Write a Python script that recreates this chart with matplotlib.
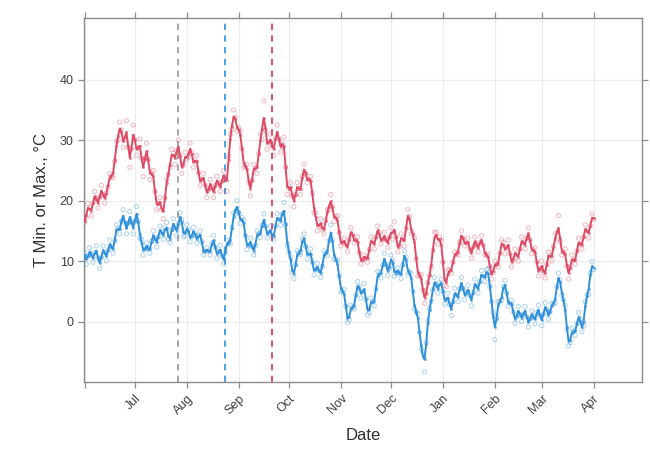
import matplotlib
matplotlib.use("Agg")
import matplotlib.pyplot as plt
import matplotlib.dates as mdates
import pandas as pd

plt.rcParams['font.family'] = ['Liberation Sans', 'DejaVu Sans']

start = "2013-06-01"

# Daily maximum temperature, degC
tmax = [
    16.4, 17.2, 19.5, 18.8, 17.5, 19.6, 21.5, 20.3, 18.8, 20.6,
    22.5, 21.0, 19.6, 21.3, 22.2, 24.5, 24.0, 23.8, 26.5, 29.8,
    30.0, 33.0, 31.7, 28.8, 30.0, 33.2, 28.8, 25.5, 28.5, 32.5,
    30.1, 27.5, 28.8, 30.2, 27.0, 24.0, 27.0, 29.5, 26.8, 23.5,
    24.6, 25.0, 21.5, 18.5, 19.5, 20.5, 18.5, 17.0, 20.5, 23.5,
    24.3, 25.5, 28.5, 27.8, 26.0, 28.3, 30.0, 27.5, 24.5, 25.8,
    28.0, 26.8, 27.2, 29.5, 27.9, 25.5, 26.6, 27.5, 24.6, 22.5,
    23.5, 24.5, 22.6, 20.5, 21.8, 23.5, 22.2, 20.5, 22.5, 24.0,
    22.8, 21.5, 23.2, 25.0, 23.6, 21.5, 27.3, 31.0, 31.8, 35.0,
    33.8, 31.5, 32.0, 31.5, 28.6, 25.5, 25.6, 26.0, 23.0, 20.8,
    23.4, 26.0, 25.4, 24.5, 27.8, 31.0, 30.1, 36.5, 31.6, 28.5,
    29.5, 31.0, 28.9, 27.5, 30.3, 32.5, 30.2, 28.0, 29.5, 30.5,
    25.5, 21.0, 22.0, 23.0, 20.8, 19.0, 21.0, 23.0, 22.0, 21.0,
    24.0, 26.0, 24.5, 23.0, 23.5, 24.0, 21.3, 18.0, 18.0, 15.0,
    15.8, 17.0, 15.2, 14.5, 16.8, 18.5, 18.5, 21.0, 19.0, 16.5,
    17.4, 17.5, 14.7, 12.5, 13.0, 13.8, 12.7, 11.5, 13.6, 15.5,
    14.4, 13.0, 13.5, 14.0, 11.4, 9.5, 10.2, 11.0, 10.5, 9.8,
    11.9, 14.0, 13.2, 12.0, 14.0, 15.8, 14.7, 12.8, 13.5, 14.8,
    13.5, 12.2, 14.0, 15.5, 13.6, 16.5, 14.0, 11.5, 12.4, 14.5,
    13.6, 12.5, 15.4, 18.5, 17.4, 14.5, 14.7, 13.8, 10.4, 7.5,
    7.6, 7.8, 5.2, 3.0, 4.6, 6.5, 7.6, 9.0, 11.8, 14.8,
    14.7, 12.8, 14.0, 13.5, 9.8, 6.0, 5.8, 8.5, 8.6, 8.0,
    9.8, 11.5, 11.2, 11.0, 13.1, 15.0, 13.8, 12.5, 13.0, 13.8,
    11.9, 10.5, 12.3, 14.0, 12.7, 11.5, 13.1, 14.2, 12.6, 11.0,
    11.0, 11.2, 9.2, 7.0, 8.1, 10.0, 9.4, 9.0, 11.3, 13.5,
    13.1, 11.2, 12.3, 13.5, 11.2, 9.0, 10.2, 12.0, 11.0, 10.0,
    12.0, 14.0, 13.1, 12.0, 13.8, 15.5, 13.5, 11.2, 11.9, 12.2,
    9.8, 7.5, 8.7, 10.0, 8.1, 7.2, 9.5, 11.5, 10.9, 10.0,
    12.4, 14.5, 13.6, 17.5, 13.2, 11.0, 11.4, 12.0, 9.2, 7.0,
    8.8, 11.0, 10.2, 9.5, 11.7, 13.8, 12.9, 12.0, 14.0, 16.0,
    15.0, 13.8, 15.8, 17.8, 16.9,
]

# Daily minimum temperature, degC
tmin = [
    11.4, 9.5, 10.8, 12.2, 11.0, 9.8, 11.4, 12.5, 10.5, 8.8,
    10.6, 12.5, 11.4, 10.0, 11.8, 13.5, 12.3, 11.3, 13.3, 16.0,
    15.4, 14.5, 16.6, 18.5, 16.4, 14.5, 16.2, 18.2, 16.5, 14.5,
    16.6, 19.0, 16.6, 13.8, 13.6, 11.0, 12.0, 13.0, 12.0, 11.3,
    13.3, 15.0, 13.7, 12.3, 14.0, 15.8, 14.7, 13.6, 15.5, 16.4,
    13.7, 13.0, 15.2, 17.0, 15.5, 14.2, 16.2, 18.0, 16.9, 14.0,
    14.2, 16.0, 15.2, 13.2, 14.0, 15.6, 14.5, 13.0, 14.2, 15.0,
    13.2, 11.0, 11.6, 12.2, 11.6, 11.0, 13.0, 14.2, 12.3, 10.5,
    11.6, 12.6, 10.8, 9.5, 11.4, 13.4, 13.0, 12.8, 15.6, 18.0,
    17.8, 20.0, 18.0, 16.2, 17.2, 16.8, 14.2, 11.9, 12.6, 13.8,
    12.4, 11.0, 12.5, 15.0, 14.6, 13.9, 15.9, 17.8, 15.8, 13.8,
    14.7, 15.8, 14.0, 13.5, 15.8, 17.9, 16.9, 15.9, 17.8, 19.7,
    16.0, 12.5, 11.5, 10.7, 8.1, 7.1, 9.4, 11.7, 11.4, 11.1,
    13.6, 14.5, 12.4, 10.4, 11.2, 12.0, 9.8, 7.7, 8.6, 9.6,
    8.4, 7.3, 9.1, 11.7, 11.3, 10.9, 13.4, 16.0, 13.5, 10.3,
    10.2, 10.2, 7.5, 4.9, 5.0, 5.3, 2.5, -0.2, 0.3, 2.7,
    2.4, 2.1, 4.4, 6.6, 5.8, 3.9, 5.0, 6.3, 3.7, 1.1,
    1.5, 3.9, 3.3, 2.6, 5.4, 8.3, 8.1, 7.2, 9.3, 11.3,
    9.5, 7.6, 8.8, 11.0, 10.2, 7.5, 8.0, 8.9, 7.9, 7.1,
    9.4, 11.7, 10.7, 7.7, 8.1, 8.0, 5.0, 2.1, 1.6, 1.3,
    -1.8, -4.5, -5.0, -8.3, -3.5, 0.2, 2.2, 3.3, 5.3, 7.3,
    6.0, 4.7, 6.4, 7.0, 5.0, 2.9, 3.6, 4.7, 2.8, 1.0,
    3.3, 5.5, 4.3, 3.3, 5.4, 7.3, 5.5, 3.6, 4.8, 6.0,
    4.3, 2.6, 4.8, 7.0, 5.8, 4.7, 6.6, 8.4, 7.5, 6.6,
    8.6, 8.7, 5.8, 3.3, 1.5, -3.0, 0.8, 3.3, 3.3, 3.5,
    5.8, 6.8, 4.8, 2.5, 3.0, 3.5, 1.6, -0.3, 0.8, 2.5,
    1.2, 0.0, 1.2, 2.5, 0.8, -0.9, 0.4, 1.8, 0.7, -0.4,
    1.5, 2.7, 1.0, -0.7, 1.2, 3.1, 2.0, 0.3, 1.6, 3.0,
    3.0, 3.0, 5.8, 8.0, 6.9, 4.3, 3.6, 2.7, -1.3, -4.0,
    -3.5, -1.1, -1.6, -2.3, -0.3, 1.5, 0.3, -1.7, -0.8, 3.3,
    4.4, 4.5, 8.1, 9.9, 8.6,
]

# Reference dates marked with dashed verticals
event_dates = ["2013-07-27", "2013-08-24", "2013-09-21"]
event_colors = ["#a0a0a0", "#3a9ae0", "#e0405e"]

red = "#de4a64"
blue = "#2f90da"

s_max = pd.Series(tmax, index=pd.date_range(start, periods=len(tmax), freq="D"))
s_min = pd.Series(tmin, index=pd.date_range(start, periods=len(tmin), freq="D"))


def smooth(s):
    # light 1-2-1 running mean; ends use the raw neighbours available
    prev = s.shift(1).fillna(s)
    nxt = s.shift(-1).fillna(s)
    return 0.25 * prev + 0.5 * s + 0.25 * nxt


fig = plt.figure(figsize=(6.5, 4.63), dpi=100)
ax = fig.add_axes([0.1295, 0.175, 0.8585, 0.786])

grid_c = "#ececec"
for s, c in ((s_max, red), (s_min, blue)):
    ax.scatter(s.index, s.values, s=9, facecolors="none", edgecolors=c,
               linewidths=0.7, alpha=0.4, zorder=3)
    sm = smooth(s)
    ax.plot(sm.index, sm.values, color=c, lw=1.4, zorder=4)
    ax.scatter(sm.index, sm.values, s=5, color=c, alpha=0.6, zorder=4,
               linewidths=0)

for d, c in zip(event_dates, event_colors):
    ax.axvline(pd.Timestamp(d), color=c, lw=1.3, ls=(0, (3.5, 3)), zorder=2)

ax.set_xlim(pd.Timestamp("2013-05-31 18:00"), pd.Timestamp("2014-04-30"))
ax.set_ylim(-10, 50.2)

ax.xaxis.set_major_locator(mdates.MonthLocator())
ax.xaxis.set_major_formatter(mdates.DateFormatter("%b"))
ax.set_yticks([0, 10, 20, 30, 40])

ax.grid(True, color=grid_c, lw=0.8, zorder=0)
ax.set_axisbelow(True)

for sp in ax.spines.values():
    sp.set_color("#8c8c8c")
    sp.set_linewidth(1.0)

ax.tick_params(axis="both", which="both", direction="out", length=4,
               width=0.9, color="#8c8c8c", labelcolor="#404040",
               top=True, right=True, labelsize=9)
plt.setp(ax.get_xticklabels(), rotation=45, ha="right", rotation_mode="anchor")
# the June tick sits on the left edge and carries no label
for lbl in ax.get_xticklabels():
    if lbl.get_text() == "Jun":
        lbl.set_visible(False)

ax.set_xlabel("Date", fontsize=12, color="#303030", labelpad=8)
ax.set_ylabel("T Min. or Max., °C", fontsize=12, color="#303030", labelpad=8)

fig.savefig("out.png", dpi=100)
